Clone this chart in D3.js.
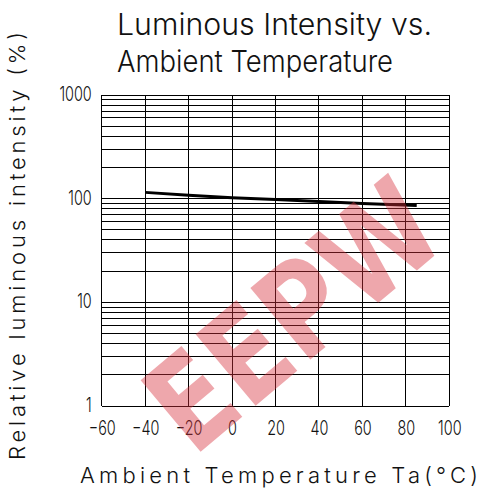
<!DOCTYPE html>
<html>
<head>
<meta charset="utf-8">
<script src="https://cdn.jsdelivr.net/npm/d3@7"></script>
<style>
  html, body { margin: 0; padding: 0; background: #fff; }
  svg text { font-family: Inter, "DejaVu Sans", sans-serif; font-weight: 300; fill: #111; }
</style>
</head>
<body>
<div id="chart"></div>
<script>
// curve
const temps = [-40, -20, 0, 20, 40, 60, 85];
const intensity = [115, 108, 102, 98, 94, 90, 86];

const xTicks = [-60, -40, -20, 0, 20, 40, 60, 80, 100];
const yTicks = [1, 10, 100, 1000];

const titleLines = ["Luminous Intensity vs.", "Ambient Temperature"];
const xLabel = "Ambient Temperature Ta(°C)";
const yLabel = "Relative luminous intensity (%)";

const W = 481, H = 493;
const plot = { left: 101.7, right: 449.3, top: 95, bottom: 406 };

const svg = d3.select("#chart").append("svg")
    .attr("width", W)
    .attr("height", H)
    .attr("viewBox", [0, 0, W, H]);

const x = d3.scaleLinear().domain([-60, 100]).range([plot.left, plot.right]);
const y = d3.scaleLog().domain([1, 1000]).range([plot.bottom, plot.top]);

// grid: every log minor step + every 20 degrees
const grid = svg.append("g").attr("class", "grid")
    .attr("stroke", "#000")
    .attr("stroke-width", 1)
    .attr("shape-rendering", "crispEdges");

grid.selectAll(".h")
  .data(y.ticks())
  .enter().append("line")
    .attr("x1", plot.left).attr("x2", plot.right)
    .attr("y1", d => y(d)).attr("y2", d => y(d));

grid.selectAll(".v")
  .data(xTicks)
  .enter().append("line")
    .attr("x1", d => x(d)).attr("x2", d => x(d))
    .attr("y1", plot.top).attr("y2", plot.bottom);

// tick labels (narrow, like the CAD font)
svg.append("g")
    .attr("transform", `translate(0,${plot.bottom})`)
    .call(d3.axisBottom(x).tickValues(xTicks).tickSize(0).tickPadding(0).tickFormat(d3.format("d")))
    .call(g => g.select(".domain").remove())
    .call(g => g.selectAll("text")
        .attr("dy", null).attr("y", null)
        .attr("font-size", 20)
        .attr("font-family", null)
        .attr("fill", "#111")
        .attr("transform", "translate(0,29) scale(0.72,1)"));

svg.append("g")
    .attr("transform", `translate(${plot.left},0)`)
    .call(d3.axisLeft(y).tickValues(yTicks).tickSize(0).tickPadding(0).tickFormat(d3.format("d")))
    .call(g => g.select(".domain").remove())
    .call(g => g.selectAll("text")
        .attr("x", null)
        .attr("font-size", 20)
        .attr("font-family", null)
        .attr("fill", "#111")
        .attr("transform", "translate(-10,-1) scale(0.72,1)"));

// curve
svg.append("path")
    .datum(temps.map((t, i) => ({ t: t, v: intensity[i] })))
    .attr("fill", "none")
    .attr("stroke", "#000")
    .attr("stroke-width", 3)
    .attr("d", d3.line().x(d => x(d.t)).y(d => y(d.v)));

// titles
svg.append("text")
    .attr("x", 117).attr("y", 35)
    .attr("font-size", 30)
    .attr("textLength", 315).attr("lengthAdjust", "spacingAndGlyphs")
    .text(titleLines[0]);
svg.append("text")
    .attr("x", 117).attr("y", 72)
    .attr("font-size", 30)
    .attr("textLength", 276).attr("lengthAdjust", "spacingAndGlyphs")
    .text(titleLines[1]);

svg.append("text")
    .attr("x", 80).attr("y", 483)
    .attr("font-size", 22)
    .attr("textLength", 398).attr("lengthAdjust", "spacing")
    .text(xLabel);

svg.append("text")
    .attr("transform", "translate(25,460) rotate(-90)")
    .attr("font-size", 22)
    .attr("textLength", 428).attr("lengthAdjust", "spacing")
    .text(yLabel);

// EEPW watermark
svg.append("text")
    .attr("transform", "translate(322,350) rotate(-40) scale(0.82,1)")
    .attr("text-anchor", "middle")
    .attr("font-size", 128)
    .style("font-family", "'DejaVu Sans'")
    .style("font-weight", "bold")
    .style("fill", "#d8303c")
    .style("opacity", 0.42)
    .text("EEPW");
</script>
</body>
</html>
